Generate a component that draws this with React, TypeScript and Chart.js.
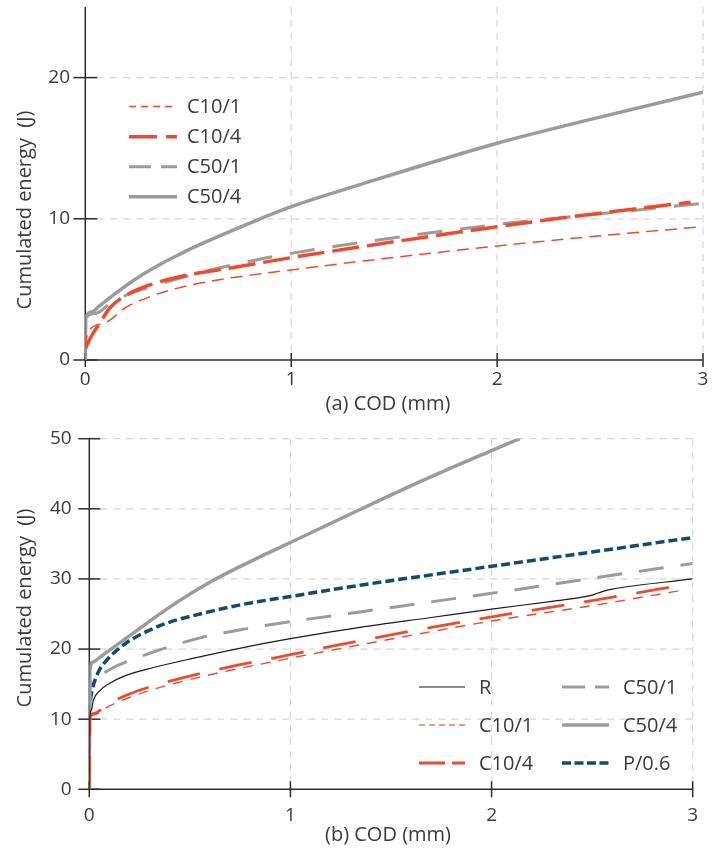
import React, { useEffect, useRef } from 'react';
import { Chart, registerables } from 'chart.js';

Chart.register(...registerables);

// ---------- tick labels ----------
const X_TICK_LABELS = ['0', '1', '2', '3'];
const Y_TICK_LABELS_A = ['0', '10', '20'];
const Y_TICK_LABELS_B = ['0', '10', '20', '30', '40', '50'];

// ---------- panel (a) ----------
const A_C10_1_X = [0, 0.01, 0.09, 0.2, 0.3, 0.4, 0.56, 0.72, 0.85, 1, 1.33, 2, 2.5, 3];
const A_C10_1_Y = [0.9, 1.9, 2.6, 3.75, 4.4, 4.9, 5.45, 5.85, 6.1, 6.38, 6.98, 8.07, 8.8, 9.44];

const A_C10_4_X = [0, 0.03, 0.07, 0.12, 0.2, 0.31, 0.475, 0.72, 1, 1.33, 2, 2.5, 2.94];
const A_C10_4_Y = [0.8, 1.7, 2.6, 3.7, 4.6, 5.3, 5.95, 6.55, 7.25, 8.0, 9.44, 10.4, 11.17];

const A_C50_1_X = [0, 0.005, 0.05, 0.12, 0.2, 0.3, 0.56, 0.8, 1, 1.33, 2, 2.5, 3];
const A_C50_1_Y = [0, 3.0, 3.3, 4.0, 4.6, 5.1, 6.2, 7.0, 7.55, 8.3, 9.6, 10.35, 11.1];

const A_C50_4_X = [0, 0.002, 0.03, 0.07, 0.15, 0.23, 0.36, 0.46, 0.56, 0.85, 1, 1.33, 2, 2.5, 3];
const A_C50_4_Y = [0, 3.0, 3.4, 3.85, 4.75, 5.6, 6.75, 7.5, 8.2, 10.0, 10.86, 12.4, 15.35, 17.2, 18.96];

// ---------- panel (b) ----------
const B_R_X = [0, 0.002, 0.01, 0.02, 0.05, 0.1, 0.17, 0.27, 0.52, 0.85, 1, 1.346, 1.7, 2, 2.3, 2.45, 2.5, 2.55, 2.6, 3];
const B_R_Y = [0, 10, 11.3, 12.7, 14.0, 15.1, 16.1, 17.0, 18.7, 20.7, 21.5, 23.1, 24.5, 25.7, 26.8, 27.4, 27.7, 28.2, 28.55, 30.0];

const B_C10_1_X = [0, 0.003, 0.02, 0.1, 0.2, 0.3, 0.55, 1, 1.346, 2, 2.5, 2.95];
const B_C10_1_Y = [0, 10.0, 10.6, 11.9, 13.1, 14.1, 16.0, 18.7, 20.6, 24.0, 26.2, 28.4];

const B_C10_4_X = [0, 0.003, 0.02, 0.1, 0.2, 0.3, 0.55, 1, 1.346, 2, 2.5, 2.92];
const B_C10_4_Y = [0, 10.1, 10.8, 12.3, 13.6, 14.6, 16.5, 19.2, 21.2, 24.6, 26.9, 29.0];

const B_C50_1_X = [0, 0.004, 0.037, 0.136, 0.3, 0.55, 0.8, 1, 1.346, 2, 2.5, 3];
const B_C50_1_Y = [0, 15.4, 16.3, 17.6, 19.4, 21.6, 23.0, 23.9, 25.3, 27.96, 30.1, 32.2];

const B_C50_4_X = [0, 0.003, 0.02, 0.06, 0.22, 0.385, 0.617, 0.882, 1, 1.346, 1.678, 2, 2.14];
const B_C50_4_Y = [0, 17.0, 18.2, 19.0, 22.3, 25.7, 29.8, 33.6, 35.2, 39.9, 44.3, 48.3, 50.0];

const B_P06_X = [0.005, 0.015, 0.03, 0.05, 0.08, 0.12, 0.18, 0.25, 0.385, 0.55, 0.75, 1, 1.346, 2, 2.5, 3];
const B_P06_Y = [12.7, 14.3, 15.7, 17.0, 18.2, 19.4, 20.8, 22.0, 23.7, 25.0, 26.3, 27.5, 29.1, 31.8, 33.85, 35.9];

// ---------- styles ----------
const FONT = "'Open Sans', sans-serif";
const TEXT = '#3a3a3a';
const RED = '#EF4A2B';
const GRAY = '#9B9B9B';
const BLUE = '#0F4C75';
const BLACK = '#1A1A1A';

const pts = (xs: number[], ys: number[]) => xs.map((x, i) => ({ x, y: ys[i] }));

function line(ctx: CanvasRenderingContext2D, a: number, b: number, c: number, d: number) {
  ctx.beginPath();
  ctx.moveTo(a, b);
  ctx.lineTo(c, d);
  ctx.stroke();
}

const framePlugin = {
  id: 'frame',
  beforeDatasetsDraw(chart: any, _a: any, o: any) {
    const ctx: CanvasRenderingContext2D = chart.ctx;
    const xs = chart.scales.x;
    const ys = chart.scales.y;
    const x0 = xs.getPixelForValue(xs.min);
    const x1 = xs.getPixelForValue(xs.max);
    const y0 = ys.getPixelForValue(ys.min);
    const y1 = ys.getPixelForValue(ys.max);
    const isMajor = (t: any) => t.label !== null && t.label !== undefined && t.label !== '';
    ctx.save();
    ctx.lineWidth = 1.2;
    ctx.strokeStyle = '#d6d6d6';
    ctx.setLineDash([7, 6]);
    ys.ticks.forEach((t: any) => {
      if (!isMajor(t) || t.value === ys.min) return;
      const p = ys.getPixelForValue(t.value);
      line(ctx, x0 + o.yMajor, p, x1, p);
    });
    xs.ticks.forEach((t: any) => {
      if (!isMajor(t) || t.value === xs.min) return;
      const p = xs.getPixelForValue(t.value);
      line(ctx, p, y1, p, y0 - o.xMajor);
    });
    ctx.setLineDash([]);
    ctx.strokeStyle = '#2c2c2c';
    ctx.lineWidth = 1.5;
    line(ctx, x0, y0, x0, y1);
    line(ctx, x0, y0, x1, y0);
    ys.ticks.forEach((t: any) => {
      const p = ys.getPixelForValue(t.value);
      if (isMajor(t)) line(ctx, x0 - o.yMajor, p, x0 + o.yMajor, p);
      else line(ctx, x0 - o.yMinor, p, x0, p);
    });
    xs.ticks.forEach((t: any) => {
      const p = xs.getPixelForValue(t.value);
      if (isMajor(t)) line(ctx, p, y0 - o.xMajor, p, y0 + o.xMajor);
      else line(ctx, p, y0, p, y0 + o.xMinor);
    });
    ctx.restore();
  },
  afterDatasetsDraw(chart: any, _a: any, o: any) {
    const ctx: CanvasRenderingContext2D = chart.ctx;
    ctx.save();
    ctx.fillStyle = TEXT;
    ctx.font = `20px ${FONT}`;
    ctx.textAlign = 'center';
    ctx.textBaseline = 'middle';
    ctx.fillText(o.xTitle.text, o.xTitle.x, o.xTitle.y);
    ctx.save();
    ctx.translate(o.yTitle.x, o.yTitle.y);
    ctx.rotate(-Math.PI / 2);
    ctx.fillText(o.yTitle.text, 0, 0);
    ctx.restore();
    ctx.textAlign = 'left';
    o.legend.forEach((item: any) => {
      const ds = chart.data.datasets[item.index];
      ctx.save();
      ctx.strokeStyle = ds.legendColor || ds.borderColor;
      ctx.lineWidth = ds.borderWidth;
      ctx.setLineDash(ds.legendDash || []);
      ctx.lineCap = 'butt';
      line(ctx, item.x, item.y, item.x + item.len, item.y);
      ctx.restore();
      ctx.fillStyle = TEXT;
      ctx.fillText(ds.label, item.x + item.len + item.gap, item.y + 1);
    });
    ctx.restore();
  },
};

function makeConfig(datasets: any[], yMax: number, yLabels: string[], geom: any, frame: any): any {
  return {
    type: 'line',
    data: { datasets },
    plugins: [framePlugin],
    options: {
      responsive: false,
      animation: false,
      events: [],
      layout: { padding: { top: geom.top, right: geom.right, left: 0, bottom: 0 } },
      elements: { point: { radius: 0 }, line: { cubicInterpolationMode: 'monotone' } },
      plugins: { legend: { display: false }, tooltip: { enabled: false }, frame },
      scales: {
        x: {
          type: 'linear',
          min: 0,
          max: 3,
          ticks: {
            stepSize: 0.5,
            autoSkip: false,
            maxRotation: 0,
            padding: geom.xPad,
            color: TEXT,
            font: { family: FONT, size: 19 },
            callback: (v: number) => (X_TICK_LABELS.includes(String(v)) ? String(v) : null),
          },
          grid: { display: false, drawTicks: true, tickLength: geom.xTick },
          border: { display: false },
          afterFit: (s: any) => {
            s.height = geom.xHeight;
            s.paddingLeft = 0;
            s.paddingRight = 0;
          },
        },
        y: {
          type: 'linear',
          min: 0,
          max: yMax,
          ticks: {
            stepSize: 5,
            autoSkip: false,
            padding: geom.yPad,
            color: TEXT,
            font: { family: FONT, size: 19 },
            callback: (v: number) => (yLabels.includes(String(v)) ? String(v) : null),
          },
          grid: { display: false, drawTicks: true, tickLength: geom.yTick },
          border: { display: false },
          afterFit: (s: any) => {
            s.width = geom.yWidth;
            s.paddingTop = 0;
            s.paddingBottom = 0;
          },
        },
      },
    },
  };
}

function ChartCanvas({ config, width, height }: { config: () => any; width: number; height: number }) {
  const ref = useRef<HTMLCanvasElement | null>(null);
  useEffect(() => {
    if (!ref.current) return;
    const chart = new Chart(ref.current, config());
    return () => chart.destroy();
  }, []);
  return <canvas ref={ref} width={width} height={height} style={{ display: 'block', width, height }} />;
}

const configA = () =>
  makeConfig(
    [
      { label: 'C10/1', data: pts(A_C10_1_X, A_C10_1_Y), borderColor: RED, borderWidth: 1.5, borderDash: [12, 7], legendDash: [7, 5] },
      { label: 'C10/4', data: pts(A_C10_4_X, A_C10_4_Y), borderColor: RED, borderWidth: 3.5, borderDash: [27, 8], legendDash: [28, 9, 11, 40] },
      { label: 'C50/1', data: pts(A_C50_1_X, A_C50_1_Y), borderColor: GRAY, borderWidth: 3, borderDash: [25, 18], legendDash: [22, 10] },
      { label: 'C50/4', data: pts(A_C50_4_X, A_C50_4_Y), borderColor: GRAY, borderWidth: 3.5 },
    ],
    25,
    Y_TICK_LABELS_A,
    { top: 7, right: 12, xHeight: 60, yWidth: 85.3, xTick: 5, xPad: 3, yTick: 12, yPad: 3.3 },
    {
      yMajor: 12, yMinor: 8, xMajor: 7, xMinor: 5,
      xTitle: { text: '(a) COD (mm)', x: 388, y: 404 },
      yTitle: { text: 'Cumulated energy  (J)', x: 25, y: 210 },
      legend: [
        { index: 0, x: 129, y: 106.5, len: 48, gap: 10 },
        { index: 1, x: 129, y: 136.7, len: 48, gap: 10 },
        { index: 2, x: 129, y: 166.7, len: 48, gap: 10 },
        { index: 3, x: 129, y: 196.7, len: 48, gap: 10 },
      ],
    }
  );

const B_OFF = 420;
const configB = () =>
  makeConfig(
    [
      { label: 'R', data: pts(B_R_X, B_R_Y), borderColor: BLACK, borderWidth: 1.2 },
      { label: 'C10/1', data: pts(B_C10_1_X, B_C10_1_Y), borderColor: RED, legendColor: '#F3775C', borderWidth: 1.4, borderDash: [10, 8], legendDash: [6, 4] },
      { label: 'C10/4', data: pts(B_C10_4_X, B_C10_4_Y), borderColor: RED, borderWidth: 2.8, borderDash: [33, 20], legendDash: [26, 7] },
      { label: 'C50/1', data: pts(B_C50_1_X, B_C50_1_Y), borderColor: GRAY, borderWidth: 3, borderDash: [25, 17], legendDash: [23, 10] },
      { label: 'C50/4', data: pts(B_C50_4_X, B_C50_4_Y), borderColor: GRAY, borderWidth: 3.5 },
      { label: 'P/0.6', data: pts(B_P06_X, B_P06_Y), borderColor: BLUE, borderWidth: 3.5, borderDash: [9, 4], legendDash: [9, 3.5] },
    ],
    50,
    Y_TICK_LABELS_B,
    { top: 18.7, right: 22.3, xHeight: 58.7, yWidth: 89.3, xTick: 8, xPad: 7, yTick: 11, yPad: 6.6 },
    {
      yMajor: 11, yMinor: 9, xMajor: 8, xMinor: 6,
      xTitle: { text: '(b) COD (mm)', x: 388, y: 835 - B_OFF },
      yTitle: { text: 'Cumulated energy  (J)', x: 25, y: 608 - B_OFF },
      legend: [
        { index: 0, x: 419, y: 687 - B_OFF, len: 46, gap: 14 },
        { index: 1, x: 419, y: 725 - B_OFF, len: 46, gap: 14 },
        { index: 2, x: 419, y: 763 - B_OFF, len: 46, gap: 14 },
        { index: 3, x: 562, y: 687 - B_OFF, len: 47, gap: 14 },
        { index: 4, x: 562, y: 725 - B_OFF, len: 47, gap: 14 },
        { index: 5, x: 562, y: 763 - B_OFF, len: 47, gap: 14 },
      ],
    }
  );

export default function App() {
  return (
    <div style={{ position: 'absolute', left: 0, top: 0, width: 715, height: 848, background: '#fff' }}>
      <ChartCanvas config={configA} width={715} height={420} />
      <ChartCanvas config={configB} width={715} height={428} />
    </div>
  );
}
